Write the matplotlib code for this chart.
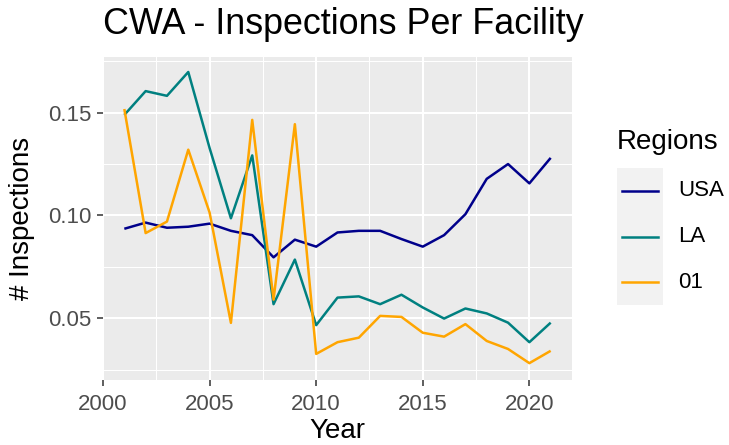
import numpy as np
import matplotlib.pyplot as plt
from matplotlib.lines import Line2D

plt.rcParams['font.family'] = ['Liberation Sans', 'DejaVu Sans']

# -----------------------------------------------------------------------
# Data
# -----------------------------------------------------------------------
years = list(range(2001, 2022))

usa = [0.0935, 0.0965, 0.0940, 0.0945, 0.0960, 0.0925, 0.0904, 0.0796, 0.0882, 0.0848,
       0.0917, 0.0925, 0.0925, 0.0885, 0.0848, 0.0904, 0.1006, 0.1178, 0.1250, 0.1156,
       0.1280]
la = [0.1489, 0.1605, 0.1582, 0.1698, 0.1328, 0.0986, 0.1292, 0.0568, 0.0785, 0.0466,
      0.0600, 0.0606, 0.0568, 0.0614, 0.0552, 0.0498, 0.0547, 0.0523, 0.0478, 0.0383,
      0.0478]
r01 = [0.1518, 0.0914, 0.0970, 0.1320, 0.1014, 0.0477, 0.1465, 0.0590, 0.1444, 0.0326,
       0.0383, 0.0405, 0.0511, 0.0506, 0.0429, 0.0410, 0.0471, 0.0389, 0.0350, 0.0281,
       0.0341]

region_names = ['USA', 'LA', '01']
region_colors = ['#00008B', '#008080', '#FFA500']
series = [usa, la, r01]

x_ticks = [2000, 2005, 2010, 2015, 2020]
y_ticks = [0.05, 0.10, 0.15]
y_labels = ['0.05', '0.10', '0.15']

W, H = 729, 445
fig = plt.figure(figsize=(W / 100, H / 100), dpi=100)

# panel in pixel coordinates
left, right, top, bottom = 103, 572, 57, 380
ax = fig.add_axes([left / W, (H - bottom) / H, (right - left) / W, (bottom - top) / H])
ax.set_facecolor('#EBEBEB')

for vals, col, name in zip(series, region_colors, region_names):
    ax.plot(years, vals, color=col, lw=1.8, label=name, solid_capstyle='butt')

ax.set_xlim(2000, 2022)
ax.set_ylim(0.0199, 0.1771)
ax.set_xticks(x_ticks)
ax.set_xticklabels([str(t) for t in x_ticks])
ax.set_yticks(y_ticks)
ax.set_yticklabels(y_labels)
ax.set_xticks([2002.5, 2007.5, 2012.5, 2017.5], minor=True)
ax.set_yticks([0.025, 0.075, 0.125, 0.175], minor=True)

ax.grid(which='major', color='white', lw=1.5)
ax.grid(which='minor', color='white', lw=0.75)
ax.set_axisbelow(True)
for s in ax.spines.values():
    s.set_visible(False)

ax.tick_params(which='major', length=4.5, width=1.1, color='#333333',
               labelsize=16, labelcolor='#4D4D4D')
ax.tick_params(axis='x', which='major', pad=5.5)
ax.tick_params(axis='y', which='major', pad=4)
ax.tick_params(which='minor', length=0)

ax.set_xlabel('Year', fontsize=20, labelpad=2.5)
ax.set_ylabel('# Inspections', fontsize=20, labelpad=9)

fig.text(left / W, 1 - 34 / H, 'CWA - Inspections Per Facility', fontsize=25.8,
         ha='left', va='baseline')

# -----------------------------------------------------------------------
# Legend, ggplot style
# -----------------------------------------------------------------------
kl, kr, kt, kb = 617, 663, 168, 305
lax = fig.add_axes([kl / W, (H - kb) / H, (kr - kl) / W, (kb - kt) / H])
lax.set_facecolor('#F2F2F2')
lax.set_xlim(0, 1)
lax.set_ylim(0, 3)
lax.set_xticks([])
lax.set_yticks([])
for s in lax.spines.values():
    s.set_visible(False)
for i, (col, name) in enumerate(zip(region_colors, region_names)):
    yy = 2.5 - i
    lax.add_line(Line2D([0.1, 0.9], [yy, yy], color=col, lw=1.8))
    fig.text(678 / W, 1 - (kt + (kb - kt) * (i + 0.5) / 3) / H, name, fontsize=16,
             ha='left', va='center')

fig.text(617 / W, 1 - 149 / H, 'Regions', fontsize=20, ha='left', va='baseline')

fig.savefig('out.png', dpi=100)
